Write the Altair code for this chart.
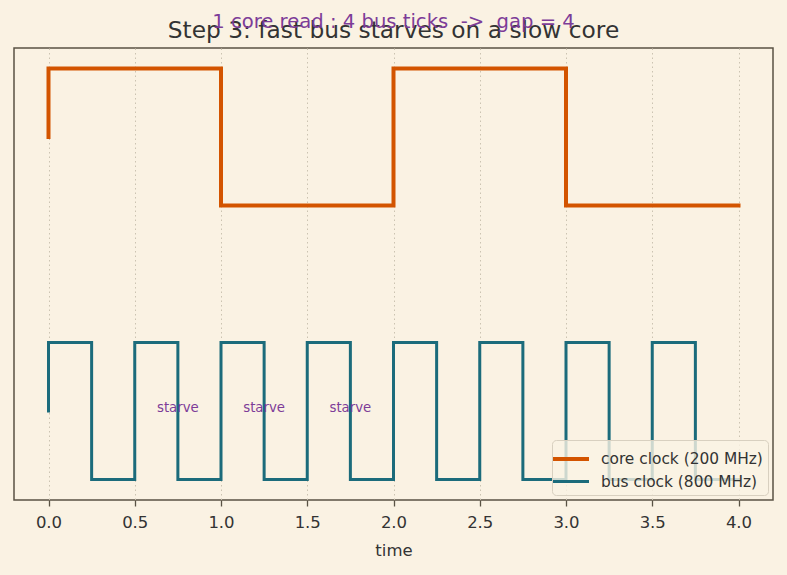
import altair as alt
import pandas as pd

# Core clock (200 MHz): one period spans two time units
core_t = [0.0, 0.0, 1.0, 2.0, 3.0, 4.0]
core_v = [2.5, 3.0, 2.0, 3.0, 2.0, 2.0]

# Bus clock (800 MHz): four ticks per core period
bus_t = [0.0, 0.0, 0.25, 0.5, 0.75, 1.0, 1.25, 1.5, 1.75, 2.0, 2.25,
         2.5, 2.75, 3.0, 3.25, 3.5, 3.75, 4.0]
bus_v = [0.5, 1.0, 0.0, 1.0, 0.0, 1.0, 0.0, 1.0, 0.0, 1.0, 0.0,
         1.0, 0.0, 1.0, 0.0, 1.0, 0.0, 0.0]

series_names = ["core clock (200 MHz)", "bus clock (800 MHz)"]
series_colors = ["#d35400", "#1b6b7b"]
series_widths = [4.0, 3.0]

# "starve" markers on the bus trace
starve_t = [0.75, 1.25, 1.75]
starve_v = [0.5, 0.5, 0.5]
starve_label = "starve"

title_text = "Step 3: fast bus starves on a slow core"
subtitle_text = "1 core read : 4 bus ticks \u00a0->\u00a0 gap = 4"

x_ticks = [0.0, 0.5, 1.0, 1.5, 2.0, 2.5, 3.0, 3.5, 4.0]

BG = "#faf2e3"
FRAME = "#5a5244"
INK = "#333333"
PURPLE = "#7d3c98"
FONT = "DejaVu Sans"

W, H = 759, 452

lines_df = pd.concat([
    pd.DataFrame({"t": core_t, "v": core_v, "series": series_names[0], "order": range(len(core_t))}),
    pd.DataFrame({"t": bus_t, "v": bus_v, "series": series_names[1], "order": range(len(bus_t))}),
], ignore_index=True)

starve_df = pd.DataFrame({"t": starve_t, "v": starve_v, "label": starve_label})
head_df = pd.DataFrame({"title": [title_text], "subtitle": [subtitle_text]})

x_scale = alt.Scale(domain=[-0.2, 4.2], nice=False, zero=False)
y_scale = alt.Scale(domain=[-0.15, 3.15], nice=False, zero=False)

# legend key: a horizontal stroke wider than the row height
legend = alt.Legend(
    title=None, orient="bottom-right", offset=5,
    symbolType="M-1.5,0H1.5", symbolSize=576,
    labelFont=FONT, labelFontSize=15.4, labelColor=INK, labelLimit=300,
    labelOffset=16, rowPadding=0, padding=5,
    fillColor="rgba(250,242,227,0.8)", strokeColor="#d8d0c0",
    cornerRadius=4,
)

lines = alt.Chart(lines_df).mark_line(
    interpolate="step-after", strokeJoin="miter", strokeCap="square"
).encode(
    x=alt.X("t:Q", scale=x_scale, axis=alt.Axis(
        values=x_ticks, format=".1f", title="time",
        grid=True, gridDash=[1.5, 3], gridColor="#cbc3b1", gridWidth=1,
        domain=False, ticks=True, tickSize=6, tickColor=FRAME, tickWidth=1.3,
        labelFont=FONT, labelFontSize=16.5, labelColor=INK, labelPadding=8,
        titleFont=FONT, titleFontSize=16.5, titleColor=INK,
        titleFontWeight="normal", titlePadding=12,
    )),
    y=alt.Y("v:Q", scale=y_scale, axis=None),
    color=alt.Color("series:N", scale=alt.Scale(domain=series_names, range=series_colors),
                    sort=series_names, legend=legend),
    strokeWidth=alt.StrokeWidth("series:N", scale=alt.Scale(domain=series_names, range=series_widths),
                                sort=series_names, legend=legend),
    order="order:Q",
)

starve = alt.Chart(starve_df).mark_text(
    font=FONT, fontSize=13.3, color=PURPLE, align="center", baseline="middle", dy=-3
).encode(
    x=alt.X("t:Q", scale=x_scale),
    y=alt.Y("v:Q", scale=y_scale),
    text="label:N",
)

title = alt.Chart(head_df).mark_text(
    font=FONT, fontSize=23.3, color=INK, align="center", baseline="alphabetic"
).encode(x=alt.value(W / 2), y=alt.value(-10), text="title:N")

subtitle = alt.Chart(head_df).mark_text(
    font=FONT, fontSize=19.6, color=PURPLE, align="center", baseline="alphabetic"
).encode(x=alt.value(W / 2), y=alt.value(-20), text="subtitle:N")

chart = alt.layer(lines, starve, title, subtitle).properties(
    width=W, height=H,
    background=BG,
    padding={"left": 14, "top": 48, "right": 14, "bottom": 75},
    autosize=alt.AutoSizeParams(type="none"),
).configure_view(
    stroke=FRAME, strokeWidth=1.5, fill=BG,
)

chart.save("out.html", embed_options={"renderer": "svg", "actions": False})
